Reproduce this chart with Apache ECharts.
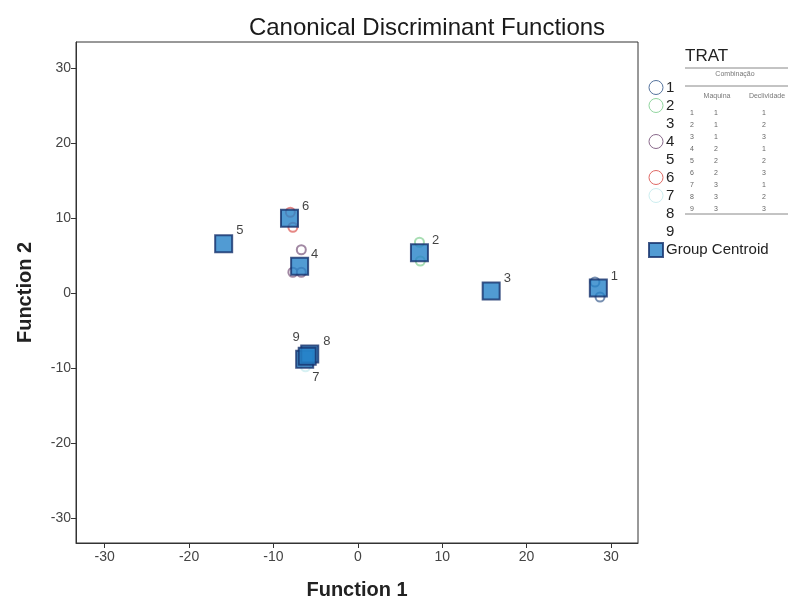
<!DOCTYPE html>
<html>
<head>
<meta charset="utf-8">
<script src="https://cdn.jsdelivr.net/npm/echarts@6/dist/echarts.min.js"></script>
<style>
  html, body { margin: 0; padding: 0; background: #fff; }
  #chart { width: 788px; height: 596px; }
</style>
</head>
<body>
<div id="chart"></div>
<script>
// group centroids (Function 1, Function 2)
const groups = ['1', '2', '3', '4', '5', '6', '7', '8', '9'];
const centroidX = [28.5, 7.3, 15.8, -6.9, -15.9, -8.1, -6.3, -5.7, -6.0];
const centroidY = [0.7, 5.4, 0.3, 3.6, 6.6, 10.0, -8.8, -8.1, -8.4];

// individual cases per group (only those visible in the plot)
const cases = {
    '1': [[28.1, 1.5], [28.7, -0.5]],
    '2': [[7.3, 6.8], [7.4, 4.3]],
    '3': [],
    '4': [[-6.7, 5.8], [-7.7, 2.8], [-6.7, 2.8]],
    '5': [],
    '6': [[-8.0, 10.8], [-7.7, 8.8]],
    '7': [[-6.2, -9.8]],
    '8': [],
    '9': []
};

const tickValues = [-30, -20, -10, 0, 10, 20, 30];

// legend table (TRAT -> Combinação)
const tableRows = [
    ['1', '1', '1'], ['2', '1', '2'], ['3', '1', '3'],
    ['4', '2', '1'], ['5', '2', '2'], ['6', '2', '3'],
    ['7', '3', '1'], ['8', '3', '2'], ['9', '3', '3']
];

const groupColors = {
    '1': '#56749e', '2': '#92d6a0', '3': 'transparent', '4': '#8a6a8c',
    '5': 'transparent', '6': '#e06a66', '7': '#cdeef0', '8': 'transparent', '9': 'transparent'
};

// label placement for centroid numbers
const labelPlace = {
    '1': ['right', [0, -12]], '2': ['right', [0, -12]], '3': ['right', [0, -13]],
    '4': ['right', [-1, -12]], '5': ['right', [0, -13]], '6': ['right', [0, -12]],
    '7': ['right', [-5, 18]], '8': ['right', [1, -13]], '9': ['left', [5, -19]]
};

const fontFam = 'Liberation Sans, Arial';
const myChart = echarts.init(document.getElementById('chart'));

const series = groups.map(g => ({
    name: g,
    type: 'scatter',
    symbol: 'emptyCircle',
    symbolSize: 9,
    itemStyle: { color: groupColors[g], borderColor: groupColors[g], borderWidth: 1 },
    data: cases[g],
    z: 2
}));

series.push({
    name: 'Group Centroid',
    type: 'scatter',
    symbol: 'rect',
    symbolSize: 17,
    itemStyle: { color: '#2682c8', borderColor: '#14306a', borderWidth: 2 },
    data: groups.map((g, i) => ({
        name: g,
        value: [centroidX[i], centroidY[i]],
        label: {
            show: true,
            position: labelPlace[g][0],
            offset: labelPlace[g][1],
            distance: 3
        }
    })),
    label: {
        formatter: '{b}',
        color: '#111',
        fontSize: 13,
        fontFamily: fontFam
    },
    z: 5
});

const legendData = groups.map(g => ({
    name: g,
    icon: 'circle',
    itemStyle: { color: '#fff', borderColor: groupColors[g], borderWidth: 1, opacity: groupColors[g] === 'transparent' ? 0 : 1 }
}));
legendData.push({
    name: 'Group Centroid',
    icon: 'rect',
    itemStyle: { color: '#2682c8', borderColor: '#14306a', borderWidth: 2 }
});

// legend table graphic
const tableFont = '7px ' + fontFam;
const graphics = [
    { type: 'text', left: 685, top: 48, style: { text: 'TRAT', font: '17px ' + fontFam, fill: '#222' } },
    { type: 'line', shape: { x1: 685, y1: 68, x2: 788, y2: 68 }, style: { stroke: '#888', lineWidth: 1 } },
    { type: 'text', x: 735, y: 74, style: { text: 'Combinação', font: tableFont, fill: '#777', align: 'center', verticalAlign: 'middle' } },
    { type: 'line', shape: { x1: 685, y1: 86, x2: 788, y2: 86 }, style: { stroke: '#888', lineWidth: 1 } },
    { type: 'text', x: 717, y: 96, style: { text: 'Maquina', font: tableFont, fill: '#777', align: 'center', verticalAlign: 'middle' } },
    { type: 'text', x: 767, y: 96, style: { text: 'Declividade', font: tableFont, fill: '#777', align: 'center', verticalAlign: 'middle' } },
    { type: 'line', shape: { x1: 685, y1: 214, x2: 788, y2: 214 }, style: { stroke: '#888', lineWidth: 1 } }
];
tableRows.forEach((row, i) => {
    const y = 113 + i * 12;
    graphics.push({ type: 'text', x: 692, y: y, style: { text: row[0], font: tableFont, fill: '#666', align: 'center', verticalAlign: 'middle' } });
    graphics.push({ type: 'text', x: 716, y: y, style: { text: row[1], font: tableFont, fill: '#666', align: 'center', verticalAlign: 'middle' } });
    graphics.push({ type: 'text', x: 764, y: y, style: { text: row[2], font: tableFont, fill: '#666', align: 'center', verticalAlign: 'middle' } });
});

myChart.setOption({
    animation: false,
    backgroundColor: '#fff',
    title: {
        text: 'Canonical Discriminant Functions',
        left: 422,
        top: 11,
        textAlign: 'center',
        textStyle: { fontSize: 24, fontWeight: 'normal', color: '#1a1a1a', fontFamily: fontFam }
    },
    grid: {
        left: 76, right: 150, top: 42, bottom: 53,
        outerBoundsMode: 'none',
        show: true, borderColor: '#333', borderWidth: 1
    },
    legend: {
        orient: 'vertical',
        left: 643,
        top: 75,
        itemWidth: 14,
        itemHeight: 14,
        itemGap: 3,
        textStyle: { fontSize: 15, lineHeight: 14, color: '#222', fontFamily: fontFam, padding: [0, 0, 0, -2] },
        data: legendData
    },
    xAxis: {
        type: 'value',
        min: -33.4,
        max: 33.2,
        name: 'Function 1',
        nameLocation: 'middle',
        nameGap: 37,
        nameTextStyle: { fontSize: 20, fontWeight: 'bold', color: '#222', fontFamily: fontFam },
        splitLine: { show: false },
        axisLine: { show: true, onZero: false, lineStyle: { color: '#333' } },
        axisTick: { show: true, length: 5, customValues: tickValues, lineStyle: { color: '#333' } },
        axisLabel: { customValues: tickValues, color: '#444', fontSize: 14, margin: 7, fontFamily: fontFam }
    },
    yAxis: {
        type: 'value',
        min: -33.3,
        max: 33.5,
        name: 'Function 2',
        nameLocation: 'middle',
        nameGap: 41,
        nameRotate: 90,
        nameTextStyle: { fontSize: 20, fontWeight: 'bold', color: '#222', fontFamily: fontFam },
        splitLine: { show: false },
        axisLine: { show: true, onZero: false, lineStyle: { color: '#333' } },
        axisTick: { show: true, length: 5, customValues: tickValues, lineStyle: { color: '#333' } },
        axisLabel: { customValues: tickValues, color: '#444', fontSize: 14, margin: 5, fontFamily: fontFam }
    },
    graphic: graphics,
    series: series
});
</script>
</body>
</html>
